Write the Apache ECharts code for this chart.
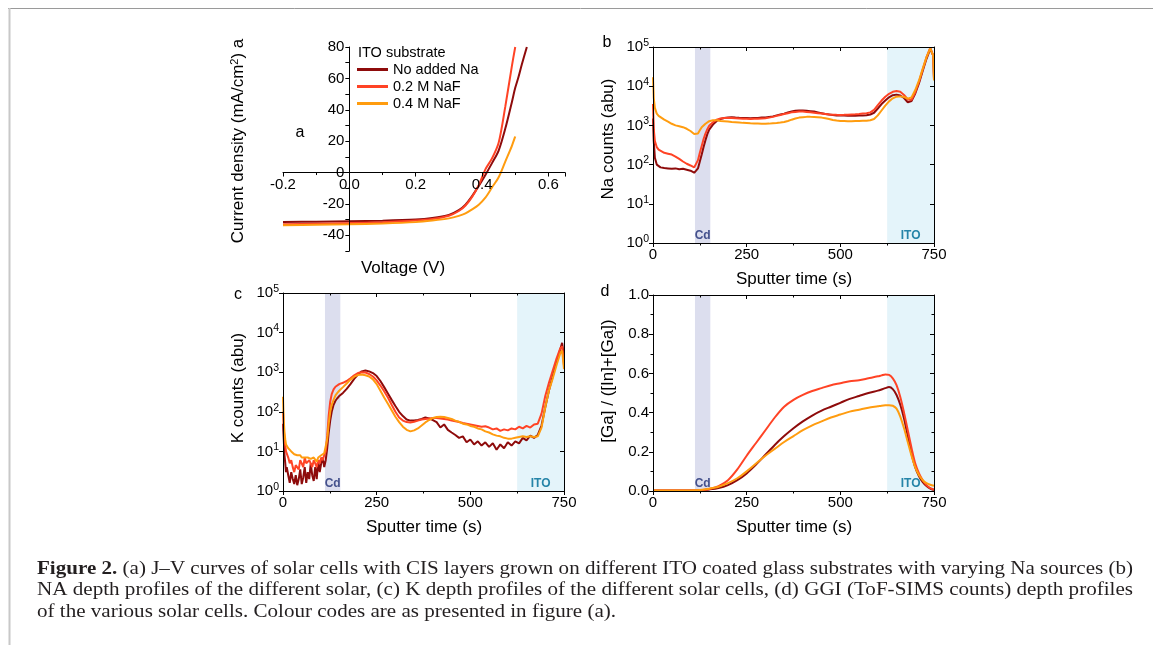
<!DOCTYPE html>
<html><head><meta charset="utf-8">
<script src="https://cdn.jsdelivr.net/npm/echarts@6.0.0/dist/echarts.min.js"></script>
<style>html,body{margin:0;padding:0;background:#fff}#c{width:1153px;height:645px}</style>
</head><body><div id="c"></div>
<script>
// ---------------- data ----------------
const seriesNames = ['No added Na', '0.2 M NaF', '0.4 M NaF'];
const seriesColors = ['#8e0b0b', '#ff4325', '#ff9c0f'];

// (a) J-V curves
const voltage = [-0.2,-0.1,0,0.1,0.2,0.25,0.3,0.33,0.35,0.37,0.39,0.41,0.43,0.45,0.47,0.49,0.5,0.51,0.52,0.535];
const jNoNa = [-31.5,-31.3,-31,-30.7,-30,-29,-27,-24,-20.5,-15,-8.5,-1.5,6,14,28,45,54,61,69,80];
const j02 = [-33,-32.6,-32.2,-31.6,-30.6,-29.6,-27.5,-24.5,-21,-15.5,-8,2,9,19,42,68,80,null,null,null];
const j04 = [-33.6,-33.3,-33,-32.5,-31.6,-30.6,-29.2,-27.6,-26,-23.5,-20.5,-16,-9.5,-3,7,17,23,null,null,null];

// (b) Na depth profiles
const timeNa = [0,2,5,10,15,20,30,40,50,60,70,80,90,100,105,110,115,120,125,130,135,140,145,150,160,170,180,190,200,210,220,230,240,250,260,270,280,290,300,310,320,330,340,350,360,370,380,390,400,410,420,430,440,450,460,470,480,490,500,510,520,530,540,550,560,570,580,590,600,610,620,630,640,650,660,670,680,690,700,710,720,730,740,745,748,750];
const naNoNa = [1500,400,150,100,90,85, 82,80,78,80,76,78,74,70, 68,62,70,80,120,180,280,420,600,780,
  1050,1300,1450,1550,1600,1620,1580,1560,1550,1540,
  1530,1540,1550,1580,1600,1650,1700,1800,1900,2000,
  2150,2250,2350,2400,2400,2350,2300,2250,2150,2050,
  1950,1900,1850,1800,1800,1780,1760,1750,1760,1780,
  1800,1820,1900,2100,2700,3500,4300,5200,5900,6100,
  5800,5000,3900,4200,6500,12000,25000,50000,90000, 100000,60000,15000];
const na02 = [3500,800,400,280,240,220, 200,190,180,160,140,120,105,95, 92,85,85,130,200,300,450,620,800,980,
  1200,1400,1500,1550,1550,1540,1520,1500,1480,1470,
  1460,1470,1480,1500,1520,1580,1650,1750,1850,1950,
  2050,2150,2200,2250,2250,2200,2150,2100,2050,2000,
  1950,1900,1880,1860,1850,1860,1880,1900,1920,1950,
  2000,2050,2150,2500,3300,4300,5400,6400,7200,7500,
  7200,6000,4600,4500,7000,13000,27000,55000,95000, 100000,60000,15000];
const na04 = [17000,5000,2800,2000,1750,1600, 1400,1250,1100,1000,950,900,820,720, 650,600,590,620,750,900,1000,1100,1200,1280,
  1350,1350,1300,1280,1250,1220,1200,1180,1160,1150,
  1130,1120,1110,1100,1100,1110,1130,1150,1180,1220,
  1300,1400,1500,1580,1620,1650,1650,1640,1620,1580,
  1520,1450,1380,1330,1300,1290,1280,1280,1290,1300,
  1310,1320,1350,1450,1800,2400,3200,4100,4900,5400,
  5500,5300,4800,5200,8000,14000,28000,55000,92000, 95000,60000,14000];

// (c) K depth profiles
const timeK = [0,2,4,6,8,10,14,18,22,26,30,34,38,42,46,50,54,58,62,66,70,74,78,82,86,90,94,98,102,106,110,114,118,122,126,130,135,140,145,150,160,170,180,190,200,210,220,230,240,250,260,270,280,290,300,310,320,330,340,350,360,370,380,390,400,410,420,430,440,450,460,470,480,490,500,510,520,530,540,550,560,570,580,590,600,610,620,630,640,650,660,670,680,690,700,710,720,730,740,745,750];
const kNoNa = [50,20,8,5,3,4,
  2.5,1.6,3,2,1.5,2.5,1.4,2,3.5,1.5,
  2.2,4,1.6,3,2,5,2.5,1.8,4,2,
  6,3,5,7,4,6,12,30,60,100,
  150,190,220,250,
  300,380,500,680,870,1050,1100,1050,950,800,
  600,420,290,200,140,100,78,64,60,60,
  62,66,72,68,62,55,40,48,35,30,
  26,22,24,17,20,15,18,14,17,13,
  16,11,15,12,17,14,18,16,22,19,
  25,22,26,45,130,350,800,1800,3800,
  5500,2500];
const k02 = [100,40,20,14,10,9,
  7,5,6,4,3,4.5,5,3.5,6,5,
  4,7,5,4.5,6,5,4,6,5,4,
  6,5,7,6,8,10,25,80,180,280,
  370,430,470,500,
  540,600,700,830,950,1000,980,900,780,620,
  460,330,230,150,100,72,60,55,54,56,
  60,64,66,68,70,70,68,66,64,60,
  58,55,52,50,48,46,44,42,43,40,
  36,38,33,36,34,38,36,42,38,44,
  40,48,50,90,250,550,1100,2200,4000,
  4500,1500];
const k04 = [240,60,30,20,15,14,
  12,11,10,9,8.5,9,8,7.5,8,7,
  7.5,7,6.5,7,7.5,6.5,6,7,6.5,5.5,
  7,7.5,8,8.5,9,10,20,50,100,150,
  200,260,300,340,
  420,520,650,770,850,870,840,780,660,500,
  340,230,160,110,75,55,42,35,32,34,
  38,45,54,62,70,74,75,74,70,66,
  60,56,50,48,44,42,38,36,32,30,
  27,25,24,22,21,21,22,23,24,23,
  24,23,24,40,130,350,700,1500,3000,
  3500,1200];

// (d) GGI depth profiles
const timeGGI = [0,25,50,75,100,125,150,175,200,225,250,275,300,325,350,375,400,425,450,475,500,525,550,575,600,610,620,630,640,650,660,670,680,690,700,710,720,730,740,750];
const ggiNoNa = [0.003,0.003,0.003,0.003,0.003,0.004,0.008,0.015,0.03,0.055,0.09,0.135,0.185,0.235,0.28,0.32,0.355,0.385,0.41,0.43,0.45,0.47,0.485,0.5,0.512,
  0.518,0.525,0.53,0.52,0.49,0.44,0.37,0.28,0.19,0.12,0.075,0.045,0.025,0.012,0.005];
const ggi02 = [0.003,0.003,0.003,0.003,0.003,0.004,0.01,0.025,0.055,0.11,0.18,0.245,0.31,0.375,0.43,0.465,0.49,0.51,0.525,0.54,0.55,0.56,0.565,0.575,0.585,
  0.59,0.595,0.592,0.575,0.54,0.48,0.4,0.31,0.22,0.14,0.09,0.055,0.03,0.015,0.008];
const ggi04 = [0.003,0.003,0.003,0.003,0.003,0.005,0.012,0.022,0.04,0.065,0.1,0.14,0.18,0.215,0.25,0.28,0.31,0.335,0.355,0.375,0.39,0.405,0.415,0.425,0.432,
  0.435,0.437,0.438,0.435,0.42,0.38,0.32,0.25,0.18,0.12,0.08,0.055,0.04,0.032,0.027];

// layer bands (sputter time, s)
const cdBand = [112, 153];
const itoBand = [625, 750];

// texts
const captionLines = [
  ['Figure 2.', ' (a) J\u2013V curves of solar cells with CIS layers grown on different ITO coated glass substrates with varying Na sources (b)'],
  ['', 'NA depth profiles of the different solar, (c) K depth profiles of the different solar cells, (d) GGI (ToF-SIMS counts) depth profiles'],
  ['', 'of the various solar cells. Colour codes are as presented in figure (a).']
];

// ---------------- helpers ----------------
const FONT = 'Liberation Sans';
function zip(xs, ys) { return xs.map((x, i) => ys[i] == null ? null : [x, ys[i]]).filter(p => p); }

function timeAxis(gridIndex, position) {
  const main = position === 'bottom';
  return {
    type: 'value', gridIndex, position, min: 0, max: 750, interval: 250,
    axisLine: {onZero: false, lineStyle: {color: '#000', width: 1}},
    axisTick: {inside: !main, length: 4, lineStyle: {color: '#000'}},
    minorTick: {show: true, splitNumber: 2, length: 2.5, lineStyle: {color: '#000'}},
    axisLabel: {show: main, color: '#000', fontSize: 15, fontFamily: FONT, margin: 4},
    splitLine: {show: false}, minorSplitLine: {show: false}, z: 5
  };
}
function logAxis(gridIndex, position) {
  const main = position === 'left';
  return {
    type: 'log', logBase: 10, gridIndex, position, min: 1, max: 100000,
    axisLine: {onZero: false, lineStyle: {color: '#000', width: 1}},
    axisTick: {inside: !main, length: 4, lineStyle: {color: '#000'}},
    axisLabel: {show: main, color: '#000', fontSize: 15, fontFamily: FONT, margin: 4,
      formatter: v => '10{s|' + Math.round(Math.log10(v)) + '}',
      rich: {s: {fontSize: 10.5, fontFamily: FONT, color: '#000', verticalAlign: 'bottom', padding: [0, 0, 8, 0]}}},
    splitLine: {show: false}, z: 5
  };
}
function ggiAxis(gridIndex, position) {
  const main = position === 'left';
  return {
    type: 'value', gridIndex, position, min: 0, max: 1, interval: 0.2,
    axisLine: {onZero: false, lineStyle: {color: '#000', width: 1}},
    axisTick: {inside: !main, length: 4, lineStyle: {color: '#000'}},
    minorTick: {show: true, splitNumber: 2, length: 2.5, lineStyle: {color: '#000'}},
    axisLabel: {show: main, color: '#000', fontSize: 15, fontFamily: FONT, margin: 4, formatter: v => v.toFixed(1)},
    splitLine: {show: false}, minorSplitLine: {show: false}, z: 5
  };
}
const bandArea = {
  silent: true,
  label: {show: true, position: 'insideBottom', distance: 1, fontSize: 12, fontWeight: 'bold', fontFamily: FONT},
  data: [
    [{name: 'Cd', xAxis: cdBand[0], itemStyle: {color: '#dcdeee'}, label: {color: '#44518c'}}, {xAxis: cdBand[1]}],
    [{name: 'ITO', xAxis: itoBand[0], itemStyle: {color: '#e4f4fa'}, label: {color: '#2584a8'}}, {xAxis: itoBand[1]}]
  ]
};
function line(i, xi, yi, data, smooth, withBands) {
  const s = {
    type: 'line', name: seriesNames[i], xAxisIndex: xi, yAxisIndex: yi, data,
    showSymbol: false, symbol: 'none', smooth: smooth,
    lineStyle: {color: seriesColors[i], width: 2}, itemStyle: {color: seriesColors[i]},
    z: 2 + i
  };
  if (withBands) s.markArea = bandArea;
  return s;
}

// ---------------- panel (a) geometry: axes cross at zero ----------------
const gridA = {left: 283, top: 47, width: 282, height: 204};
const aX = [-0.2, 0.65], aY = [-50, 80];
const aXOffset = -(gridA.height * (0 - aY[0]) / (aY[1] - aY[0]));   // move x axis up to J = 0
const aYOffset = -(gridA.width * (0 - aX[0]) / (aX[1] - aX[0]));    // move y axis right to V = 0

// ---------------- caption layout ----------------
const CAP_FS = 18;
const cctx = document.createElement('canvas').getContext('2d');
function meas(str, w) { cctx.font = w + ' ' + CAP_FS + 'px "Liberation Serif"'; return cctx.measureText(str).width; }
const capLeft = 37, capRight = 1133;
const capW = captionLines.map(l => meas(l[0], 'bold') + meas(l[1], 'normal'));
const s1 = (capRight - capLeft) / capW[0], s2 = (capRight - capLeft) / capW[1];
const capScale = [s1, s2, (s1 + s2) / 2];
const capY = [569, 590.5, 612];

function txt(x, y, text, opt) {
  return Object.assign({type: 'text', x, y, silent: true,
    style: Object.assign({text, fill: '#000', fontSize: 17, fontFamily: FONT, align: 'center', verticalAlign: 'middle'}, opt && opt.style || {})},
    opt && opt.el || {});
}

const graphic = [
  {type: 'line', silent: true, shape: {x1: 8, y1: 8.5, x2: 1153, y2: 8.5}, style: {stroke: '#9a9a9a', lineWidth: 1}},
  {type: 'line', silent: true, shape: {x1: 9.5, y1: 8, x2: 9.5, y2: 645}, style: {stroke: '#c8c8c8', lineWidth: 2}},
  // panel a
  txt(238, 141, 'Current density (mA/cm{sup|2}) a', {el: {rotation: Math.PI / 2},
    style: {rich: {sup: {fontSize: 11, fontFamily: FONT, fill: '#000', verticalAlign: 'bottom', padding: [0, 0, 7, 0]}}}}),
  txt(403, 268, 'Voltage (V)'),
  txt(300, 133, 'a', {style: {fontSize: 16}}),
  txt(358, 53, 'ITO substrate', {style: {fontSize: 14.5, align: 'left'}}),
  // panel b
  txt(607, 43, 'b', {style: {fontSize: 16}}),
  txt(608, 139, 'Na counts (abu)', {el: {rotation: Math.PI / 2}}),
  txt(794, 279, 'Sputter time (s)'),
  // panel c
  txt(238, 295, 'c', {style: {fontSize: 16}}),
  txt(238, 388, 'K counts (abu)', {el: {rotation: Math.PI / 2}}),
  txt(424, 527, 'Sputter time (s)'),
  // panel d
  txt(605, 292, 'd', {style: {fontSize: 16}}),
  txt(608, 381, '[Ga] / ([In]+[Ga])', {el: {rotation: Math.PI / 2}}),
  txt(794, 527, 'Sputter time (s)')
];
captionLines.forEach((l, i) => {
  graphic.push({type: 'text', x: capLeft, y: capY[i], scaleX: capScale[i], silent: true,
    style: {text: (l[0] ? '{b|' + l[0] + '}' : '') + l[1], fill: '#231f20', fontSize: CAP_FS, fontFamily: 'Liberation Serif',
      align: 'left', verticalAlign: 'middle',
      rich: {b: {fontWeight: 'bold', fontSize: CAP_FS, fontFamily: 'Liberation Serif', fill: '#231f20'}}}});
});

// ---------------- chart ----------------
const chart = echarts.init(document.getElementById('c'), null, {renderer: 'canvas'});
chart.setOption({
  animation: false,
  backgroundColor: '#fff',
  grid: [
    gridA,
    {left: 653, top: 47, width: 281, height: 196},
    {left: 283, top: 293, width: 281, height: 198},
    {left: 653, top: 295, width: 281, height: 196}
  ],
  legend: {
    data: seriesNames, orient: 'vertical', left: 357, top: 62, padding: 0, itemGap: 2,
    icon: 'rect', itemWidth: 31, itemHeight: 3,
    textStyle: {fontSize: 14.5, fontFamily: FONT, color: '#000'}
  },
  xAxis: [
    {type: 'value', gridIndex: 0, position: 'bottom', min: aX[0], max: aX[1], interval: 0.2, offset: aXOffset,
      axisLine: {onZero: false, lineStyle: {color: '#000'}},
      axisTick: {length: 4, lineStyle: {color: '#000'}},
      minorTick: {show: true, splitNumber: 2, length: 2.5, lineStyle: {color: '#000'}},
      axisLabel: {color: '#000', fontSize: 15, fontFamily: FONT, margin: 5,
        formatter: v => Math.abs(v - 0.65) < 1e-6 ? '' : v.toFixed(1)},
      splitLine: {show: false}, minorSplitLine: {show: false}, z: 5},
    timeAxis(1, 'bottom'), timeAxis(1, 'top'),
    timeAxis(2, 'bottom'), timeAxis(2, 'top'),
    timeAxis(3, 'bottom'), timeAxis(3, 'top')
  ],
  yAxis: [
    {type: 'value', gridIndex: 0, position: 'left', min: aY[0], max: aY[1], interval: 10, offset: aYOffset,
      axisLine: {onZero: false, lineStyle: {color: '#000'}},
      axisTick: {length: 4, lineStyle: {color: '#000'}},
      axisLabel: {color: '#000', fontSize: 15, fontFamily: FONT, margin: 5,
        formatter: v => (Math.round(v) % 20 === 0) ? String(Math.round(v)) : ''},
      splitLine: {show: false}, z: 5},
    logAxis(1, 'left'), logAxis(1, 'right'),
    logAxis(2, 'left'), logAxis(2, 'right'),
    ggiAxis(3, 'left'), ggiAxis(3, 'right')
  ],
  graphic,
  series: [
    line(0, 0, 0, zip(voltage, jNoNa), 0.3, false),
    line(1, 0, 0, zip(voltage, j02), 0.3, false),
    line(2, 0, 0, zip(voltage, j04), 0.3, false),
    line(0, 1, 1, zip(timeNa, naNoNa), false, true),
    line(1, 1, 1, zip(timeNa, na02), false, false),
    line(2, 1, 1, zip(timeNa, na04), false, false),
    line(0, 3, 3, zip(timeK, kNoNa), false, true),
    line(1, 3, 3, zip(timeK, k02), false, false),
    line(2, 3, 3, zip(timeK, k04), false, false),
    line(0, 5, 5, zip(timeGGI, ggiNoNa), 0.3, true),
    line(1, 5, 5, zip(timeGGI, ggi02), 0.3, false),
    line(2, 5, 5, zip(timeGGI, ggi04), 0.3, false)
  ]
});
</script></body></html>
